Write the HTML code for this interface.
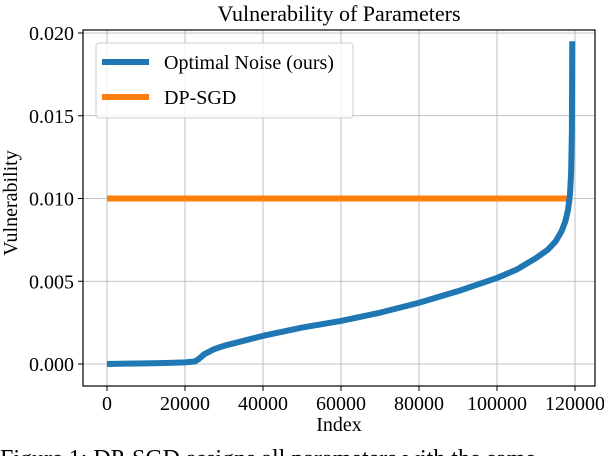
<!DOCTYPE html>
<html><head><meta charset="utf-8"><style>
html,body{margin:0;padding:0;background:#fff;overflow:hidden;width:604px;height:456px}
svg{font-family:"Liberation Serif",serif}
</style></head><body>
<svg width="604" height="456">
<text x="339" y="21" font-size="22" text-anchor="middle">Vulnerability of Parameters</text>
<g id="grid"></g>
<g id="series"></g>
<rect x="83" y="30" width="512" height="356" fill="none" stroke="#000" stroke-width="1.2"/>
<g id="ticks"></g>
<text x="339" y="431" font-size="20" text-anchor="middle">Index</text>
<text transform="translate(17,203) rotate(-90)" font-size="20" text-anchor="middle">Vulnerability</text>
<g>
<rect x="96" y="43" width="257" height="75" rx="3" fill="#fff" fill-opacity="0.8" stroke="#ccc"/>
<line x1="102" y1="62" x2="149" y2="62" stroke="#1f77b4" stroke-width="6"/>
<text x="164" y="69" font-size="20">Optimal Noise (ours)</text>
<line x1="102" y1="97" x2="149" y2="97" stroke="#ff7f0e" stroke-width="6"/>
<text x="164" y="104" font-size="20">DP-SGD</text>
</g>
<text x="0" y="466" font-size="24">Figure 1: DP-SGD assigns all parameters with the same</text>
</svg>
<script>
const xTicks=[0,20000,40000,60000,80000,100000,120000];
const yTicks=[0,0.005,0.010,0.015,0.020];
const yTickLabels=["0.000","0.005","0.010","0.015","0.020"];
const optIdx=[0,5000,10000,15000,20000,22500,23500,25000,27500,30000,35000,40000,50000,60000,70000,80000,90000,100000,105000,110000,113000,115000,116500,117500,118200,118700,119000,119200,119300];
const optVal=[0,0.00002,0.00004,0.00006,0.0001,0.00015,0.0003,0.0006,0.0009,0.0011,0.0014,0.0017,0.0022,0.0026,0.0031,0.0037,0.0044,0.0052,0.0057,0.0064,0.0069,0.0074,0.008,0.0086,0.0093,0.0102,0.0115,0.014,0.0195];
const dpIdx=[0,119300];
const dpVal=[0.01,0.01];
const NS="http://www.w3.org/2000/svg";
const X=v=>107+v/120000*468;
const Y=v=>364-v/0.02*331;
const grid=document.getElementById('grid'),tk=document.getElementById('ticks'),se=document.getElementById('series');
function mk(tag,a,p){const e=document.createElementNS(NS,tag);for(const k in a)e.setAttribute(k,a[k]);p.appendChild(e);return e;}
xTicks.forEach(t=>{
const g=mk('line',{x1:X(t),x2:X(t),y1:30,y2:386,stroke:'#b0b0b0','stroke-width':0.8},grid);


const l=mk('line',{x1:X(t),x2:X(t),y1:386,y2:391,stroke:'#000'},tk);


const s=mk('text',{x:X(t),y:410,'font-size':20,'text-anchor':'middle'},tk);s.textContent=t;


});
yTicks.forEach((t,i)=>{
const g=mk('line',{x1:83,x2:595,y1:Y(t),y2:Y(t),stroke:'#b0b0b0','stroke-width':0.8},grid);


const l=mk('line',{x1:78,x2:83,y1:Y(t),y2:Y(t),stroke:'#000'},tk);


const s=mk('text',{x:74,y:Y(t)+7,'font-size':20,'text-anchor':'end'},tk);s.textContent=yTickLabels[i];


});
const dp=mk('polyline',{points:dpIdx.map((v,i)=>X(v)+','+Y(dpVal[i])).join(' '),fill:'none',stroke:'#ff7f0e','stroke-width':6},se);


const op=mk('polyline',{points:optIdx.map((v,i)=>X(v)+','+Y(optVal[i])).join(' '),fill:'none',stroke:'#1f77b4','stroke-width':6,'stroke-linejoin':'round'},se);


</script>
</body></html>
